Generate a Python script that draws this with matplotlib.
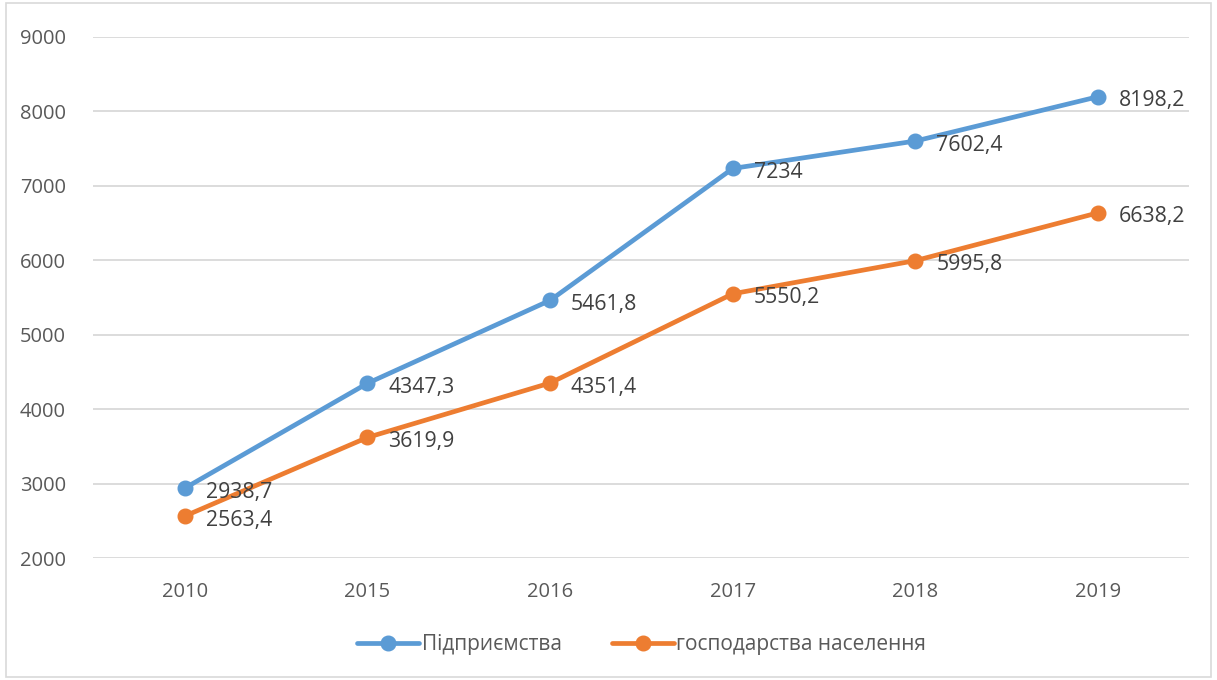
import matplotlib
matplotlib.use("Agg")
import matplotlib.pyplot as plt
from matplotlib.patches import Rectangle

years = ["2010", "2015", "2016", "2017", "2018", "2019"]
enterprises = [2938.7, 4347.3, 5461.8, 7234, 7602.4, 8198.2]
households = [2563.4, 3619.9, 4351.4, 5550.2, 5995.8, 6638.2]
series_names = ["Підприємства", "господарства населення"]

BLUE = "#5B9BD5"
ORANGE = "#ED7D31"
TEXT = "#595959"
GRID = "#D9D9D9"

plt.rcParams["font.family"] = ["Open Sans", "DejaVu Sans"]


def fmt(v):
    s = f"{v:g}"
    return s.replace(".", ",")


fig = plt.figure(figsize=(12.17, 6.8), dpi=100)
ax = fig.add_axes([0.0768, 0.1794, 0.9006, 0.7662])

x = list(range(len(years)))
for vals, color, name in [(enterprises, BLUE, series_names[0]), (households, ORANGE, series_names[1])]:
    ax.plot(x, vals, color=color, linewidth=3.4, marker="o", markersize=10.5,
            solid_capstyle="round", label=name, zorder=3)
    for xi, v in zip(x, vals):
        ax.annotate(fmt(v), (xi, v), xytext=(15, -3), textcoords="offset points",
                    va="center", ha="left", fontsize=15.3, color="#404040", zorder=4)

ax.set_xlim(-0.5, len(years) - 0.5)
ax.set_ylim(2000, 9000)
ax.set_yticks(range(2000, 9001, 1000))
ax.set_xticks(x)
ax.set_xticklabels(years)
ax.tick_params(axis="both", length=0, labelsize=14.5, labelcolor=TEXT)
ax.tick_params(axis="y", pad=20)
ax.tick_params(axis="x", pad=17)
ax.grid(axis="y", color=GRID, linewidth=1.3)
ax.set_axisbelow(True)
for s in ax.spines.values():
    s.set_visible(False)

ax.legend(loc="upper center", bbox_to_anchor=(0.5, -0.11), ncol=2, frameon=False,
          fontsize=15, labelcolor=TEXT, handlelength=3.0, handletextpad=0.1,
          columnspacing=2.4)

fig.patches.append(Rectangle((0.005, 0.005), 0.99, 0.99, transform=fig.transFigure,
                             fill=False, edgecolor="#D9D9D9", linewidth=1.2))

fig.savefig("out.png", dpi=100)
